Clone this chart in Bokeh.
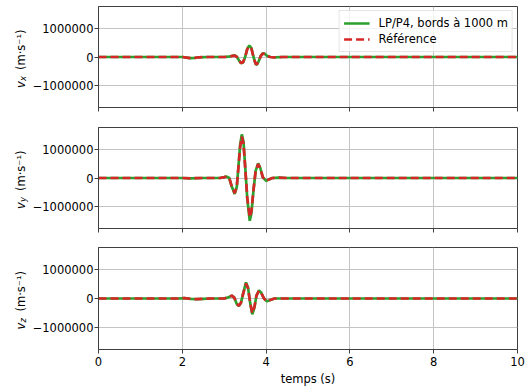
import math
from bokeh.plotting import figure
from bokeh.layouts import column, row
from bokeh.models import Range1d, FixedTicker, Label, Legend, LegendItem
from bokeh.embed import file_html
from bokeh.resources import INLINE

# ---- data ----
t_x = [0, 2.0, 2.1, 2.2, 2.3, 2.4, 2.6, 3.0, 3.1, 3.2, 3.25, 3.3, 3.35, 3.4, 3.45, 3.5,
       3.55, 3.6, 3.65, 3.7, 3.75, 3.78, 3.82, 3.87, 3.92, 3.97, 4.02, 4.1, 4.2, 4.4, 10]
vx_lp = [0, 0, -20000, -40000, -30000, -10000, 0, 0, 10000, 45000, 55000, 10000, -110000,
         -220000, -190000, 0, 290000, 400000, 310000, 0, -250000, -270000, -160000, 30000,
         130000, 115000, 40000, 0, -10000, 0, 0]
vx_ref = [0, 0, -20000, -40000, -30000, -10000, 0, 0, 10000, 40000, 50000, 10000, -100000,
          -210000, -180000, 0, 270000, 370000, 290000, 0, -235000, -255000, -150000, 30000,
          120000, 110000, 40000, 0, -10000, 0, 0]

t_y = [0, 2.0, 2.2, 2.5, 2.9, 3.0, 3.06, 3.12, 3.18, 3.25, 3.3, 3.34, 3.38, 3.42, 3.46,
       3.5, 3.55, 3.61, 3.65, 3.7, 3.75, 3.81, 3.86, 3.92, 4.0, 4.08, 4.15, 4.3, 4.5, 10]
vy_lp = [0, 0, -10000, 0, 0, 30000, 50000, 0, -300000, -560000, -320000, 400000, 1150000,
         1530000, 1280000, 420000, -720000, -1500000, -1230000, -420000, 250000, 510000,
         360000, 30000, -100000, -40000, 0, 10000, 0, 0]
vy_ref = [0, 0, -10000, 0, 0, 30000, 50000, 0, -290000, -530000, -300000, 380000, 1080000,
          1450000, 1210000, 390000, -680000, -1380000, -1150000, -400000, 240000, 490000,
          350000, 30000, -95000, -40000, 0, 10000, 0, 0]

t_z = [0, 1.9, 2.05, 2.2, 2.35, 2.5, 2.7, 3.0, 3.1, 3.18, 3.24, 3.3, 3.35, 3.4, 3.45, 3.52,
       3.57, 3.62, 3.67, 3.72, 3.77, 3.83, 3.88, 3.95, 4.02, 4.1, 4.2, 4.5, 10]
vz_lp = [0, 0, 15000, -10000, -25000, -10000, 0, 0, 40000, 100000, 30000, -190000, -260000,
         -150000, 160000, 560000, 370000, -160000, -550000, -320000, 100000, 280000, 210000,
         0, -100000, -50000, 0, 0, 0]
vz_ref = [0, 0, 15000, -10000, -25000, -10000, 0, 0, 40000, 100000, 30000, -180000, -250000,
          -145000, 150000, 520000, 350000, -150000, -510000, -300000, 100000, 270000, 200000,
          0, -100000, -50000, 0, 0, 0]

x_ticks = [0, 2, 4, 6, 8, 10]
y_ticks = [-1000000, 0, 1000000]
y_tick_labels = {-1000000: "\u22121000000", 0: "0", 1000000: "1000000"}
components = ["x", "y", "z"]
unit_text = "(m\u00b7s\u207b\u00b9)"
legend_labels = ["LP/P4, bords \u00e0 1000 m", "R\u00e9f\u00e9rence"]
xlabel = "temps (s)"

GREEN = "#2ca02c"
RED = "#d62728"
FONT = "DejaVu Sans"
FS = "11.5px"

series = [(t_x, vx_lp, vx_ref), (t_y, vy_lp, vy_ref), (t_z, vz_lp, vz_ref)]
heights = [126, 120, 145]
tops = [6, 1, 1]
bottoms = [19, 18, 42]
LAB_W = 29

figs = []
labs = []
for i, (tt, lp, ref) in enumerate(series):
    last = (i == 2)
    p = figure(width=526 - LAB_W, height=heights[i], output_backend="svg",
               toolbar_location=None, x_range=Range1d(0, 10),
               y_range=Range1d(-1770000, 1770000),
               min_border_left=97 - LAB_W, min_border_right=9, min_border_top=tops[i],
               min_border_bottom=bottoms[i])
    p.background_fill_color = "white"
    p.border_fill_color = "white"
    p.outline_line_color = "#404040"
    p.outline_line_width = 1

    r1 = p.line(tt, lp, line_color=GREEN, line_width=2.7)
    r2 = p.line(tt, ref, line_color=RED, line_width=2.7, line_dash="8 4")

    p.xaxis.ticker = FixedTicker(ticks=x_ticks)
    p.yaxis.ticker = FixedTicker(ticks=y_ticks)
    p.yaxis.major_label_overrides = y_tick_labels
    for ax in (p.xaxis[0], p.yaxis[0]):
        ax.axis_line_color = "#404040"
        ax.major_tick_line_color = "#404040"
        ax.major_tick_in = 0
        ax.major_tick_out = 4
        ax.minor_tick_line_color = None
        ax.major_label_text_font = FONT
        ax.major_label_text_font_size = FS
        ax.major_label_text_color = "black"
    p.yaxis.major_label_standoff = 1
    if last:
        p.xaxis.axis_label = xlabel
        p.xaxis.axis_label_text_font = FONT
        p.xaxis.axis_label_text_font_size = FS
        p.xaxis.axis_label_text_font_style = "normal"
        p.xaxis.axis_label_text_color = "black"
        p.xaxis.major_label_standoff = 3
        p.xaxis.axis_label_standoff = 3
    else:
        p.xaxis.major_label_overrides = {t: "" for t in x_ticks}
        p.xaxis.major_label_standoff = 0

    p.grid.grid_line_color = "#c4c4c4"
    p.grid.grid_line_width = 1

    if i == 0:
        legend = Legend(items=[LegendItem(label=legend_labels[0], renderers=[r1]),
                               LegendItem(label=legend_labels[1], renderers=[r2])],
                        location="top_right")
        legend.margin = 4
        legend.padding = 4
        legend.spacing = 0
        legend.glyph_width = 26
        legend.glyph_height = 16
        legend.label_height = 16
        legend.label_standoff = 9
        legend.label_text_font = FONT
        legend.label_text_font_size = FS
        legend.label_text_color = "black"
        legend.border_line_color = "#cccccc"
        legend.border_line_width = 1
        legend.background_fill_alpha = 0.8
        p.add_layout(legend, "center")
    figs.append(p)

    # narrow label strip holding the rotated y-axis label "v_c (m·s⁻¹)"
    lab = figure(width=LAB_W, height=heights[i], output_backend="svg",
                 toolbar_location=None, x_axis_location=None, y_axis_location=None,
                 x_range=Range1d(0, 1), y_range=Range1d(0, 1),
                 min_border=0, min_border_left=0, min_border_right=0,
                 min_border_top=0, min_border_bottom=0)
    lab.outline_line_color = None
    lab.background_fill_color = "white"
    lab.border_fill_color = "white"
    lab.grid.grid_line_color = None
    # row() aligns the strip's frame with the plot frame: centre = half frame height
    frame_h = heights[i] - tops[i] - bottoms[i]
    cy = frame_h / 2.0
    common = dict(x_units="screen", y_units="screen", angle=math.pi / 2,
                  text_font=FONT, text_color="black", text_baseline="alphabetic",
                  text_align="left")
    lab.add_layout(Label(x=20, y=cy - 31, text="v", text_font_size=FS,
                         text_font_style="italic", **common))
    lab.add_layout(Label(x=22.5, y=cy - 24, text=components[i], text_font_size="8.5px",
                         text_font_style="italic", **common))
    lab.add_layout(Label(x=20, y=cy - 13, text=unit_text, text_font_size=FS, **common))
    labs.append(lab)

layout = column(*[row(labs[k], figs[k], spacing=0) for k in range(3)], spacing=0)
open("out.html", "w").write(file_html(layout, INLINE))
